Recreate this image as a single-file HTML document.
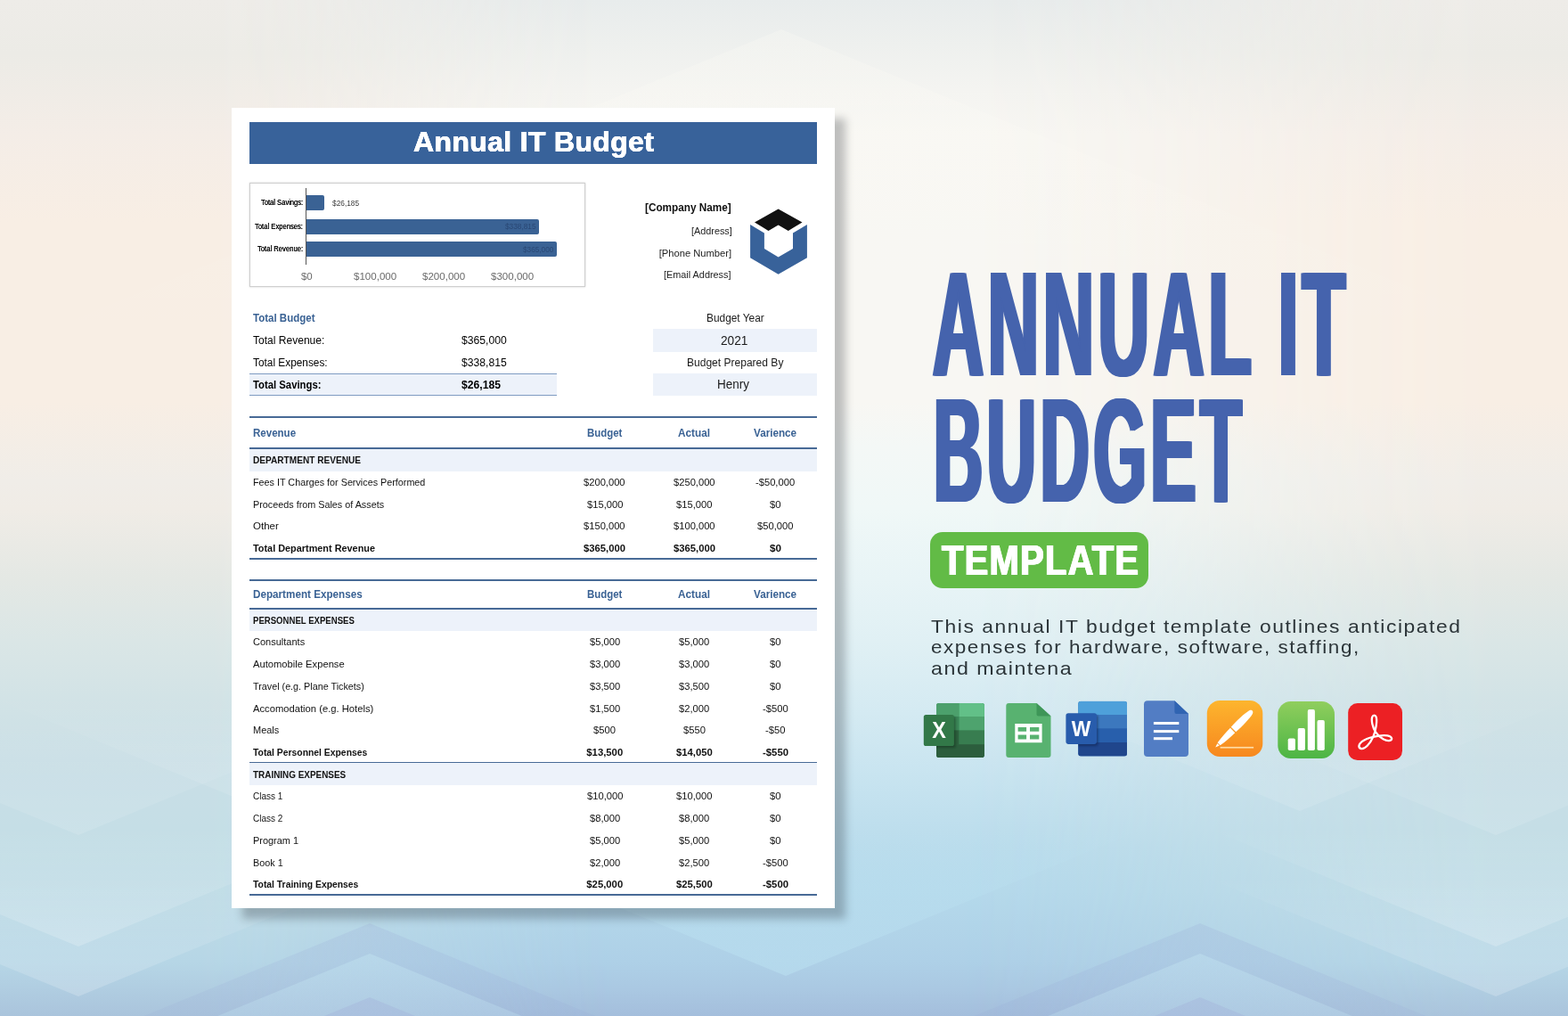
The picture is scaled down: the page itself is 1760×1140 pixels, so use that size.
<!DOCTYPE html>
<html lang="en">
<head>
<meta charset="utf-8">
<title>Annual IT Budget Template</title>
<style>
html,body{margin:0;padding:0}
body{width:1760px;height:1140px;overflow:hidden;font-family:"Liberation Sans",sans-serif;background:#eef0ee}
#stage{position:relative;width:1760px;height:1140px;overflow:hidden}
#bg{position:absolute;left:0;top:0;width:1760px;height:1140px}
#paper{position:absolute;left:260px;top:121px;width:677.3px;height:898.3px;background:#fff;box-shadow:12px 12px 9px rgba(20,25,30,.25)}
#promo{position:absolute;left:0;top:0;width:1760px;height:1140px}
.b{position:absolute}
.t{position:absolute;white-space:pre;line-height:1;transform-origin:0 50%}
h1,h2,p,strong{margin:0;padding:0;font-weight:400;display:block}

</style>
</head>
<body>
<div id="stage">
<div id="bg">
<svg width="1760" height="1140" viewBox="0 0 1760 1140">
<defs>
<linearGradient id="gc" x1="0" y1="0" x2="0" y2="1"><stop offset="0.000" stop-color="rgb(232,236,236)"/><stop offset="0.044" stop-color="rgb(238,240,238)"/><stop offset="0.088" stop-color="rgb(244,244,241)"/><stop offset="0.132" stop-color="rgb(248,247,243)"/><stop offset="0.395" stop-color="rgb(248,247,243)"/><stop offset="0.439" stop-color="rgb(244,248,246)"/><stop offset="0.500" stop-color="rgb(240,248,247)"/><stop offset="0.570" stop-color="rgb(232,244,246)"/><stop offset="0.632" stop-color="rgb(224,240,244)"/><stop offset="0.702" stop-color="rgb(212,234,242)"/><stop offset="0.763" stop-color="rgb(200,228,240)"/><stop offset="0.833" stop-color="rgb(186,220,236)"/><stop offset="0.877" stop-color="rgb(181,217,235)"/><stop offset="0.947" stop-color="rgb(174,208,231)"/><stop offset="0.974" stop-color="rgb(170,200,226)"/><stop offset="1.000" stop-color="rgb(164,190,220)"/></linearGradient>
<linearGradient id="gs" x1="0" y1="0" x2="0" y2="1"><stop offset="0.000" stop-color="rgb(238,236,232)"/><stop offset="0.053" stop-color="rgb(236,235,230)"/><stop offset="0.132" stop-color="rgb(244,237,231)"/><stop offset="0.219" stop-color="rgb(248,238,228)"/><stop offset="0.395" stop-color="rgb(248,238,228)"/><stop offset="0.474" stop-color="rgb(240,237,232)"/><stop offset="0.500" stop-color="rgb(240,236,230)"/><stop offset="0.570" stop-color="rgb(228,232,228)"/><stop offset="0.632" stop-color="rgb(218,230,230)"/><stop offset="0.702" stop-color="rgb(208,226,230)"/><stop offset="0.763" stop-color="rgb(200,222,230)"/><stop offset="0.833" stop-color="rgb(196,222,230)"/><stop offset="0.877" stop-color="rgb(192,220,230)"/><stop offset="0.947" stop-color="rgb(182,214,230)"/><stop offset="1.000" stop-color="rgb(170,196,220)"/></linearGradient>
<linearGradient id="gm" x1="0" y1="0" x2="1" y2="0"><stop offset="0.0000" stop-color="rgb(255,255,255)"/><stop offset="0.0156" stop-color="rgb(255,255,255)"/><stop offset="0.0312" stop-color="rgb(255,255,255)"/><stop offset="0.0469" stop-color="rgb(255,255,255)"/><stop offset="0.0625" stop-color="rgb(255,255,255)"/><stop offset="0.0781" stop-color="rgb(255,255,255)"/><stop offset="0.0938" stop-color="rgb(255,255,255)"/><stop offset="0.1094" stop-color="rgb(255,255,255)"/><stop offset="0.1250" stop-color="rgb(255,255,255)"/><stop offset="0.1406" stop-color="rgb(251,251,251)"/><stop offset="0.1562" stop-color="rgb(243,243,243)"/><stop offset="0.1719" stop-color="rgb(232,232,232)"/><stop offset="0.1875" stop-color="rgb(218,218,218)"/><stop offset="0.2031" stop-color="rgb(201,201,201)"/><stop offset="0.2188" stop-color="rgb(182,182,182)"/><stop offset="0.2344" stop-color="rgb(162,162,162)"/><stop offset="0.2500" stop-color="rgb(141,141,141)"/><stop offset="0.2656" stop-color="rgb(120,120,120)"/><stop offset="0.2812" stop-color="rgb(99,99,99)"/><stop offset="0.2969" stop-color="rgb(78,78,78)"/><stop offset="0.3125" stop-color="rgb(59,59,59)"/><stop offset="0.3281" stop-color="rgb(42,42,42)"/><stop offset="0.3438" stop-color="rgb(27,27,27)"/><stop offset="0.3594" stop-color="rgb(15,15,15)"/><stop offset="0.3750" stop-color="rgb(6,6,6)"/><stop offset="0.3906" stop-color="rgb(1,1,1)"/><stop offset="0.4062" stop-color="rgb(0,0,0)"/><stop offset="0.4219" stop-color="rgb(0,0,0)"/><stop offset="0.4375" stop-color="rgb(0,0,0)"/><stop offset="0.4531" stop-color="rgb(0,0,0)"/><stop offset="0.4688" stop-color="rgb(0,0,0)"/><stop offset="0.4844" stop-color="rgb(0,0,0)"/><stop offset="0.5000" stop-color="rgb(0,0,0)"/><stop offset="0.5156" stop-color="rgb(0,0,0)"/><stop offset="0.5312" stop-color="rgb(0,0,0)"/><stop offset="0.5469" stop-color="rgb(0,0,0)"/><stop offset="0.5625" stop-color="rgb(0,0,0)"/><stop offset="0.5781" stop-color="rgb(0,0,0)"/><stop offset="0.5938" stop-color="rgb(0,0,0)"/><stop offset="0.6094" stop-color="rgb(0,0,0)"/><stop offset="0.6250" stop-color="rgb(3,3,3)"/><stop offset="0.6406" stop-color="rgb(9,9,9)"/><stop offset="0.6562" stop-color="rgb(16,16,16)"/><stop offset="0.6719" stop-color="rgb(25,25,25)"/><stop offset="0.6875" stop-color="rgb(36,36,36)"/><stop offset="0.7031" stop-color="rgb(48,48,48)"/><stop offset="0.7188" stop-color="rgb(62,62,62)"/><stop offset="0.7344" stop-color="rgb(76,76,76)"/><stop offset="0.7500" stop-color="rgb(92,92,92)"/><stop offset="0.7656" stop-color="rgb(108,108,108)"/><stop offset="0.7812" stop-color="rgb(124,124,124)"/><stop offset="0.7969" stop-color="rgb(140,140,140)"/><stop offset="0.8125" stop-color="rgb(156,156,156)"/><stop offset="0.8281" stop-color="rgb(171,171,171)"/><stop offset="0.8438" stop-color="rgb(186,186,186)"/><stop offset="0.8594" stop-color="rgb(200,200,200)"/><stop offset="0.8750" stop-color="rgb(213,213,213)"/><stop offset="0.8906" stop-color="rgb(225,225,225)"/><stop offset="0.9062" stop-color="rgb(235,235,235)"/><stop offset="0.9219" stop-color="rgb(243,243,243)"/><stop offset="0.9375" stop-color="rgb(249,249,249)"/><stop offset="0.9531" stop-color="rgb(253,253,253)"/><stop offset="0.9688" stop-color="rgb(255,255,255)"/><stop offset="0.9844" stop-color="rgb(255,255,255)"/><stop offset="1.0000" stop-color="rgb(255,255,255)"/></linearGradient>
<mask id="mk" maskUnits="userSpaceOnUse" x="0" y="0" width="1760" height="1140"><rect width="1760" height="1140" fill="url(#gm)"/></mask>
<linearGradient id="fu" x1="0" y1="0" x2="0" y2="1"><stop offset="0" stop-color="#fff" stop-opacity="0"/><stop offset="1" stop-color="#fff" stop-opacity=".2"/></linearGradient>
<linearGradient id="fu2" x1="0" y1="0" x2="0" y2="1"><stop offset="0" stop-color="#fff" stop-opacity="0"/><stop offset="1" stop-color="#fff" stop-opacity=".12"/></linearGradient>
<linearGradient id="fd" x1="0" y1="0" x2="0" y2="1"><stop offset="0" stop-color="#c4e6f2" stop-opacity=".42"/><stop offset="1" stop-color="#c4e6f2" stop-opacity=".1"/></linearGradient>
<linearGradient id="fp" x1="0" y1="0" x2="0" y2="1"><stop offset="0" stop-color="#9ea8d6" stop-opacity=".3"/><stop offset="1" stop-color="#9ea8d6" stop-opacity=".1"/></linearGradient>
<linearGradient id="fq" x1="0" y1="0" x2="0" y2="1"><stop offset="0" stop-color="#8f9bd0" stop-opacity=".17"/><stop offset=".5" stop-color="#8f9bd0" stop-opacity=".12"/><stop offset="1" stop-color="#8f9bd0" stop-opacity="0"/></linearGradient>
<linearGradient id="fv" x1="0" y1="0" x2="0" y2="1"><stop offset="0" stop-color="#bfe6f4" stop-opacity="0"/><stop offset="1" stop-color="#bfe6f4" stop-opacity=".45"/></linearGradient>
<linearGradient id="ft" x1="0" y1="0" x2="0" y2="1"><stop offset="0" stop-color="#fffdf6" stop-opacity=".24"/><stop offset=".5" stop-color="#fffdf6" stop-opacity=".08"/><stop offset="1" stop-color="#fffdf6" stop-opacity="0"/></linearGradient>
</defs>
<rect width="1760" height="1140" fill="url(#gc)"/>
<rect width="1760" height="1140" fill="url(#gs)" mask="url(#mk)"/>
<polygon points="415,1036 835,1208.2 -5,1208.2" fill="url(#fq)"/>
<polygon points="415,1070 835,1242.2 -5,1242.2" fill="url(#fd)"/>
<polygon points="415,1119 715,1242.0 115,1242.0" fill="url(#fp)"/>
<polygon points="1347,1036 1767,1208.2 927,1208.2" fill="url(#fq)"/>
<polygon points="1347,1070 1767,1242.2 927,1242.2" fill="url(#fd)"/>
<polygon points="1347,1119 1647,1242.0 1047,1242.0" fill="url(#fp)"/>
<polygon points="88,1118 418,982.7 -242,982.7" fill="url(#fu)"/>
<polygon points="88,1062 418,926.7 -242,926.7" fill="url(#fu)"/>
<polygon points="88,937 418,801.7 -242,801.7" fill="url(#fu2)"/>
<polygon points="1679,1118 2009,982.7 1349,982.7" fill="url(#fu)"/>
<polygon points="1679,1062 2009,926.7 1349,926.7" fill="url(#fu)"/>
<polygon points="1679,937 2009,801.7 1349,801.7" fill="url(#fu2)"/>
<polygon points="882,1095 1302,922.8 462,922.8" fill="url(#fv)"/>
<polygon points="1459,910 1789,774.7 1129,774.7" fill="url(#fu2)"/>
<polygon points="301,910 631,774.7 -29,774.7" fill="url(#fu2)"/>
<polygon points="877,33 1777,402.0 -23,402.0" fill="url(#ft)"/>
</svg>
</div>

<section id="paper">
<div class="b" style="left:19.60px;top:15.60px;width:637.60px;height:47.60px;background:#38629a;"></div>
<div class="b" style="left:20.30px;top:83.80px;width:376.60px;height:117.00px;background:#fff;border:1px solid #cfcfcf;box-sizing:border-box;box-shadow:0 0 2px rgba(0,0,0,.18)"></div>
<div class="b" style="left:83.20px;top:90.00px;width:1.00px;height:85.60px;background:#555;"></div>
<div class="b" style="left:84.00px;top:98.00px;width:20.00px;height:17.00px;background:#3a6294;border-radius:0 2px 2px 0"></div>
<div class="b" style="left:84.00px;top:124.90px;width:260.90px;height:16.90px;background:#3a6294;border-radius:0 2px 2px 0"></div>
<div class="b" style="left:84.00px;top:150.40px;width:280.90px;height:17.00px;background:#3a6294;border-radius:0 2px 2px 0"></div>
<svg class="b" style="left:580px;top:111px" width="68" height="78" viewBox="840 232 68 78">
<polygon fill="#111" points="873.6,234.4 900.5,249.4 884.8,258.9 873.6,252.5 862.5,258.9 847,249.4"/>
<polygon fill="#38629a" points="842.1,252.1 857.9,261.4 857.9,279.1 873.6,288.6 890,279.1 890,261.4 905.9,252.1 905.9,289.3 873.6,307.7 842.1,289.3"/>
</svg>
<div class="b" style="left:19.60px;top:298.20px;width:345.70px;height:24.60px;background:#edf2fa;border-top:1px solid #7f9cc2;border-bottom:1px solid #7f9cc2;box-sizing:border-box"></div>
<div class="b" style="left:473.00px;top:248.20px;width:184.20px;height:25.60px;background:#edf2fa;"></div>
<div class="b" style="left:473.00px;top:297.50px;width:184.20px;height:25.80px;background:#edf2fa;"></div>
<div class="b" style="left:19.60px;top:346.05px;width:637.60px;height:1.90px;background:#486a96;"></div>
<div class="b" style="left:19.60px;top:381.25px;width:637.60px;height:1.90px;background:#486a96;"></div>
<div class="b" style="left:19.60px;top:383.00px;width:637.60px;height:24.70px;background:#edf2fa;"></div>
<div class="b" style="left:19.60px;top:504.75px;width:637.60px;height:1.90px;background:#486a96;"></div>
<div class="b" style="left:19.60px;top:529.35px;width:637.60px;height:1.90px;background:#486a96;"></div>
<div class="b" style="left:19.60px;top:561.05px;width:637.60px;height:1.90px;background:#486a96;"></div>
<div class="b" style="left:19.60px;top:562.80px;width:637.60px;height:24.60px;background:#edf2fa;"></div>
<div class="b" style="left:19.60px;top:733.55px;width:637.60px;height:1.90px;background:#486a96;"></div>
<div class="b" style="left:19.60px;top:735.30px;width:637.60px;height:24.60px;background:#edf2fa;"></div>
<div class="b" style="left:19.60px;top:881.75px;width:637.60px;height:1.90px;background:#486a96;"></div>
<h2 class="t" style="left:204.35px;top:22.55px;font-size:31.6px;font-weight:700;color:#fff;letter-spacing:0.296px;transform:scaleX(1.0146);text-shadow:0.34px 0 0 #fff,-0.34px 0 0 #fff,0.17px 0 0 #fff,-0.17px 0 0 #fff">Annual IT Budget</h2>
<div class="t" style="left:32.60px;top:101.85px;font-size:8.8px;transform:scaleX(0.8615);text-shadow:0 0 .4px #000">Total Savings:</div>
<div class="t" style="left:25.80px;top:128.85px;font-size:8.8px;transform:scaleX(0.8693);text-shadow:0 0 .4px #000">Total Expenses:</div>
<div class="t" style="left:28.70px;top:153.85px;font-size:8.8px;transform:scaleX(0.8706);text-shadow:0 0 .4px #000">Total Revenue:</div>
<div class="t" style="left:112.70px;top:103.02px;font-size:8.6px;color:#3c3c3c;transform:scaleX(0.9685)">$26,185</div>
<div class="t" style="left:306.60px;top:129.02px;font-size:8.6px;color:#2a4875;transform:scaleX(0.9649)">$338,815</div>
<div class="t" style="left:326.80px;top:155.02px;font-size:8.6px;color:#2a4875;transform:scaleX(0.9566)">$365,000</div>
<div class="t" style="left:77.85px;top:183.48px;font-size:11.6px;color:#6a6a6a;transform:scaleX(0.9881)">$0</div>
<div class="t" style="left:136.85px;top:183.48px;font-size:11.6px;color:#6a6a6a;transform:scaleX(0.9956)">$100,000</div>
<div class="t" style="left:213.85px;top:183.48px;font-size:11.6px;color:#6a6a6a;transform:scaleX(0.9956)">$200,000</div>
<div class="t" style="left:290.65px;top:183.48px;font-size:11.6px;color:#6a6a6a;transform:scaleX(0.9956)">$300,000</div>
<div class="t" style="left:464.40px;top:107.23px;font-size:11.9px;font-weight:700;color:#111;transform:scaleX(0.9895)">[Company Name]</div>
<div class="t" style="left:515.50px;top:132.82px;font-size:11.2px;color:#222;transform:scaleX(0.9693)">[Address]</div>
<div class="t" style="left:479.70px;top:157.82px;font-size:11.2px;color:#222">[Phone Number]</div>
<div class="t" style="left:485.20px;top:181.82px;font-size:11.2px;color:#222;transform:scaleX(0.9715)">[Email Address]</div>
<div class="t" style="left:23.60px;top:230.14px;font-size:12.0px;font-weight:700;color:#3a6294;transform:scaleX(0.9594)">Total Budget</div>
<div class="t" style="left:23.60px;top:255.14px;font-size:12.0px;transform:scaleX(1.0036)">Total Revenue:</div>
<div class="t" style="left:258.30px;top:255.14px;font-size:12.0px;transform:scaleX(1.0124)">$365,000</div>
<div class="t" style="left:23.60px;top:280.14px;font-size:12.0px;transform:scaleX(0.9872)">Total Expenses:</div>
<div class="t" style="left:258.30px;top:280.14px;font-size:12.0px;transform:scaleX(1.0124)">$338,815</div>
<div class="t" style="left:23.60px;top:305.14px;font-size:12.0px;font-weight:700;transform:scaleX(0.9423)">Total Savings:</div>
<div class="t" style="left:258.30px;top:305.14px;font-size:12.0px;font-weight:700;transform:scaleX(1.0137)">$26,185</div>
<div class="t" style="left:532.50px;top:230.14px;font-size:12.0px;color:#1a1a1a;transform:scaleX(0.9906)">Budget Year</div>
<div class="t" style="left:548.90px;top:254.28px;font-size:14.2px;color:#1a1a1a;transform:scaleX(0.9662)">2021</div>
<div class="t" style="left:510.50px;top:280.14px;font-size:12.0px;color:#1a1a1a;transform:scaleX(1.0031)">Budget Prepared By</div>
<div class="t" style="left:545.45px;top:303.28px;font-size:14.2px;color:#1a1a1a;transform:scaleX(0.9483)">Henry</div>
<div class="t" style="left:23.60px;top:359.14px;font-size:12.0px;font-weight:700;color:#3a6294;transform:scaleX(0.9613)">Revenue</div>
<div class="t" style="left:398.95px;top:359.14px;font-size:12.0px;font-weight:700;color:#3a6294;transform:scaleX(0.9509)">Budget</div>
<div class="t" style="left:501.35px;top:359.14px;font-size:12.0px;font-weight:700;color:#3a6294;transform:scaleX(0.9824)">Actual</div>
<div class="t" style="left:586.10px;top:359.14px;font-size:12.0px;font-weight:700;color:#3a6294;transform:scaleX(0.9739)">Varience</div>
<div class="t" style="left:23.60px;top:389.73px;font-size:11.3px;font-weight:700;color:#111;transform:scaleX(0.8945)">DEPARTMENT REVENUE</div>
<div class="t" style="left:23.60px;top:414.73px;font-size:11.3px;color:#111;transform:scaleX(0.9545)">Fees IT Charges for Services Performed</div>
<div class="t" style="left:395.46px;top:414.73px;font-size:11.3px;color:#111;transform:scaleX(0.9884)">$200,000</div>
<div class="t" style="left:496.06px;top:414.73px;font-size:11.3px;color:#111;transform:scaleX(0.9884)">$250,000</div>
<div class="t" style="left:588.39px;top:414.73px;font-size:11.3px;color:#111;transform:scaleX(0.9888)">-$50,000</div>
<div class="t" style="left:23.60px;top:439.73px;font-size:11.3px;color:#111;transform:scaleX(0.9560)">Proceeds from Sales of Assets</div>
<div class="t" style="left:398.54px;top:439.73px;font-size:11.3px;color:#111;transform:scaleX(0.9893)">$15,000</div>
<div class="t" style="left:499.14px;top:439.73px;font-size:11.3px;color:#111;transform:scaleX(0.9893)">$15,000</div>
<div class="t" style="left:604.13px;top:439.73px;font-size:11.3px;color:#111;transform:scaleX(1.0047)">$0</div>
<div class="t" style="left:23.60px;top:463.73px;font-size:11.3px;color:#111;transform:scaleX(1.0179)">Other</div>
<div class="t" style="left:395.46px;top:463.73px;font-size:11.3px;color:#111;transform:scaleX(0.9884)">$150,000</div>
<div class="t" style="left:496.06px;top:463.73px;font-size:11.3px;color:#111;transform:scaleX(0.9884)">$100,000</div>
<div class="t" style="left:590.24px;top:463.73px;font-size:11.3px;color:#111;transform:scaleX(0.9893)">$50,000</div>
<div class="t" style="left:23.60px;top:488.73px;font-size:11.3px;font-weight:700;color:#111;transform:scaleX(0.9627)">Total Department Revenue</div>
<div class="t" style="left:395.25px;top:488.73px;font-size:11.3px;font-weight:700;color:#111;transform:scaleX(0.9969)">$365,000</div>
<div class="t" style="left:495.86px;top:488.73px;font-size:11.3px;font-weight:700;color:#111;transform:scaleX(0.9969)">$365,000</div>
<div class="t" style="left:603.93px;top:488.73px;font-size:11.3px;font-weight:700;color:#111;transform:scaleX(1.0372)">$0</div>
<div class="t" style="left:23.60px;top:540.14px;font-size:12.0px;font-weight:700;color:#3a6294;transform:scaleX(0.9733)">Department Expenses</div>
<div class="t" style="left:398.95px;top:540.14px;font-size:12.0px;font-weight:700;color:#3a6294;transform:scaleX(0.9509)">Budget</div>
<div class="t" style="left:501.35px;top:540.14px;font-size:12.0px;font-weight:700;color:#3a6294;transform:scaleX(0.9824)">Actual</div>
<div class="t" style="left:586.10px;top:540.14px;font-size:12.0px;font-weight:700;color:#3a6294;transform:scaleX(0.9739)">Varience</div>
<div class="t" style="left:23.60px;top:569.73px;font-size:11.3px;font-weight:700;color:#111;transform:scaleX(0.8486)">PERSONNEL EXPENSES</div>
<div class="t" style="left:23.60px;top:593.73px;font-size:11.3px;color:#111;transform:scaleX(0.9749)">Consultants</div>
<div class="t" style="left:401.62px;top:593.73px;font-size:11.3px;color:#111;transform:scaleX(0.9907)">$5,000</div>
<div class="t" style="left:502.23px;top:593.73px;font-size:11.3px;color:#111;transform:scaleX(0.9907)">$5,000</div>
<div class="t" style="left:604.13px;top:593.73px;font-size:11.3px;color:#111;transform:scaleX(1.0047)">$0</div>
<div class="t" style="left:23.60px;top:618.73px;font-size:11.3px;color:#111;transform:scaleX(0.9909)">Automobile Expense</div>
<div class="t" style="left:401.62px;top:618.73px;font-size:11.3px;color:#111;transform:scaleX(0.9907)">$3,000</div>
<div class="t" style="left:502.23px;top:618.73px;font-size:11.3px;color:#111;transform:scaleX(0.9907)">$3,000</div>
<div class="t" style="left:604.13px;top:618.73px;font-size:11.3px;color:#111;transform:scaleX(1.0047)">$0</div>
<div class="t" style="left:23.60px;top:643.73px;font-size:11.3px;color:#111;transform:scaleX(0.9540)">Travel (e.g. Plane Tickets)</div>
<div class="t" style="left:401.62px;top:643.73px;font-size:11.3px;color:#111;transform:scaleX(0.9907)">$3,500</div>
<div class="t" style="left:502.23px;top:643.73px;font-size:11.3px;color:#111;transform:scaleX(0.9907)">$3,500</div>
<div class="t" style="left:604.13px;top:643.73px;font-size:11.3px;color:#111;transform:scaleX(1.0047)">$0</div>
<div class="t" style="left:23.60px;top:668.73px;font-size:11.3px;color:#111;transform:scaleX(0.9927)">Accomodation (e.g. Hotels)</div>
<div class="t" style="left:401.62px;top:668.73px;font-size:11.3px;color:#111;transform:scaleX(0.9907)">$1,500</div>
<div class="t" style="left:502.23px;top:668.73px;font-size:11.3px;color:#111;transform:scaleX(0.9907)">$2,000</div>
<div class="t" style="left:596.11px;top:668.73px;font-size:11.3px;color:#111;transform:scaleX(0.9919)">-$500</div>
<div class="t" style="left:23.60px;top:692.73px;font-size:11.3px;color:#111;transform:scaleX(0.9709)">Meals</div>
<div class="t" style="left:406.26px;top:692.73px;font-size:11.3px;color:#111;transform:scaleX(0.9932)">$500</div>
<div class="t" style="left:506.86px;top:692.73px;font-size:11.3px;color:#111;transform:scaleX(0.9932)">$550</div>
<div class="t" style="left:599.19px;top:692.73px;font-size:11.3px;color:#111;transform:scaleX(0.9947)">-$50</div>
<div class="t" style="left:23.60px;top:717.73px;font-size:11.3px;font-weight:700;color:#111;transform:scaleX(0.9175)">Total Personnel Expenses</div>
<div class="t" style="left:398.34px;top:717.73px;font-size:11.3px;font-weight:700;color:#111">$13,500</div>
<div class="t" style="left:498.94px;top:717.73px;font-size:11.3px;font-weight:700;color:#111">$14,050</div>
<div class="t" style="left:595.91px;top:717.73px;font-size:11.3px;font-weight:700;color:#111;transform:scaleX(1.0059)">-$550</div>
<div class="t" style="left:23.60px;top:742.73px;font-size:11.3px;font-weight:700;color:#111;transform:scaleX(0.8782)">TRAINING EXPENSES</div>
<div class="t" style="left:23.60px;top:766.73px;font-size:11.3px;color:#111;transform:scaleX(0.8827)">Class 1</div>
<div class="t" style="left:398.54px;top:766.73px;font-size:11.3px;color:#111;transform:scaleX(0.9893)">$10,000</div>
<div class="t" style="left:499.14px;top:766.73px;font-size:11.3px;color:#111;transform:scaleX(0.9893)">$10,000</div>
<div class="t" style="left:604.13px;top:766.73px;font-size:11.3px;color:#111;transform:scaleX(1.0047)">$0</div>
<div class="t" style="left:23.60px;top:791.73px;font-size:11.3px;color:#111;transform:scaleX(0.8827)">Class 2</div>
<div class="t" style="left:401.62px;top:791.73px;font-size:11.3px;color:#111;transform:scaleX(0.9907)">$8,000</div>
<div class="t" style="left:502.23px;top:791.73px;font-size:11.3px;color:#111;transform:scaleX(0.9907)">$8,000</div>
<div class="t" style="left:604.13px;top:791.73px;font-size:11.3px;color:#111;transform:scaleX(1.0047)">$0</div>
<div class="t" style="left:23.60px;top:816.73px;font-size:11.3px;color:#111;transform:scaleX(0.9684)">Program 1</div>
<div class="t" style="left:401.62px;top:816.73px;font-size:11.3px;color:#111;transform:scaleX(0.9907)">$5,000</div>
<div class="t" style="left:502.23px;top:816.73px;font-size:11.3px;color:#111;transform:scaleX(0.9907)">$5,000</div>
<div class="t" style="left:604.13px;top:816.73px;font-size:11.3px;color:#111;transform:scaleX(1.0047)">$0</div>
<div class="t" style="left:23.60px;top:841.73px;font-size:11.3px;color:#111;transform:scaleX(0.9574)">Book 1</div>
<div class="t" style="left:401.62px;top:841.73px;font-size:11.3px;color:#111;transform:scaleX(0.9907)">$2,000</div>
<div class="t" style="left:502.23px;top:841.73px;font-size:11.3px;color:#111;transform:scaleX(0.9907)">$2,500</div>
<div class="t" style="left:596.11px;top:841.73px;font-size:11.3px;color:#111;transform:scaleX(0.9919)">-$500</div>
<div class="t" style="left:23.60px;top:865.73px;font-size:11.3px;font-weight:700;color:#111;transform:scaleX(0.9167)">Total Training Expenses</div>
<div class="t" style="left:398.34px;top:865.73px;font-size:11.3px;font-weight:700;color:#111">$25,000</div>
<div class="t" style="left:498.94px;top:865.73px;font-size:11.3px;font-weight:700;color:#111">$25,500</div>
<div class="t" style="left:595.91px;top:865.73px;font-size:11.3px;font-weight:700;color:#111;transform:scaleX(1.0059)">-$500</div>
</section>
<section id="promo">
<div class="b" style="left:1044.10px;top:597.10px;width:245.00px;height:62.60px;background:#62bb46;border-radius:14px"></div>
<h1 class="t ttl" style="left:1046.50px;top:280.06px;font-size:166.5px;font-weight:700;color:#4563ad;letter-spacing:10.106px;transform:scaleX(0.4750);text-shadow:4.63px 0 0 #4563ad,-4.63px 0 0 #4563ad,2.32px 0 0 #4563ad,-2.32px 0 0 #4563ad">ANNUAL IT</h1>
<h1 class="t ttl" style="left:1047.87px;top:422.06px;font-size:166.5px;font-weight:700;color:#4563ad;letter-spacing:10.489px;transform:scaleX(0.4576);text-shadow:4.81px 0 0 #4563ad,-4.81px 0 0 #4563ad,2.40px 0 0 #4563ad,-2.40px 0 0 #4563ad">BUDGET</h1>
<strong class="t" style="left:1057.10px;top:604.22px;font-size:49.0px;font-weight:700;color:#fff;letter-spacing:1.469px;transform:scaleX(0.8167);text-shadow:0.86px 0 0 #fff,-0.86px 0 0 #fff,0.43px 0 0 #fff,-0.43px 0 0 #fff">TEMPLATE</strong>
<p class="t" style="left:1045.30px;top:692.86px;font-size:20.6px;color:#2b3438;letter-spacing:1.397px;transform:scaleX(1.1092)">This annual IT budget template outlines anticipated</p>
<p class="t" style="left:1045.30px;top:715.86px;font-size:20.6px;color:#2b3438;letter-spacing:1.421px;transform:scaleX(1.0908)">expenses for hardware, software, staffing,</p>
<p class="t" style="left:1045.30px;top:739.86px;font-size:20.6px;color:#2b3438;letter-spacing:1.375px;transform:scaleX(1.1269)">and maintena</p>
<svg class="b" id="icons" style="left:1030px;top:775px" width="560" height="90" viewBox="1030 775 560 90" font-family="Liberation Sans, sans-serif" font-weight="700">
<defs>
<clipPath id="cx"><rect x="1051" y="789" width="53.9" height="61" rx="2.8"/></clipPath>
<clipPath id="cw"><rect x="1210.3" y="786.7" width="54.7" height="61.8" rx="3"/></clipPath>
<linearGradient id="gp" x1="0" y1="0" x2="0" y2="1"><stop offset="0" stop-color="#fdb52e"/><stop offset="1" stop-color="#f7881f"/></linearGradient>
<linearGradient id="gn" x1="0" y1="0" x2="0" y2="1"><stop offset="0" stop-color="#90ce5d"/><stop offset="1" stop-color="#4cb545"/></linearGradient>
<filter id="sh" x="-30%" y="-30%" width="170%" height="170%"><feGaussianBlur stdDeviation="1.3"/></filter>
</defs>
<!-- Excel -->
<g clip-path="url(#cx)">
<rect x="1051" y="789" width="54" height="61" fill="#3b8658"/>
<rect x="1076.2" y="789" width="29" height="47" fill="#4ea36e"/>
<rect x="1051" y="789" width="25.7" height="15.1" fill="#4ca06c"/><rect x="1076.7" y="789" width="28.3" height="15.1" fill="#62c088"/>
<rect x="1051" y="804.1" width="25.7" height="15.3" fill="#3b8658"/><rect x="1076.7" y="804.1" width="28.3" height="15.3" fill="#4ea36e"/>
<rect x="1051" y="819.4" width="25.7" height="15.7" fill="#2c603e"/><rect x="1076.7" y="819.4" width="28.3" height="15.7" fill="#387d50"/>
<rect x="1051" y="835.1" width="54" height="15" fill="#2c5e3d"/>
<rect x="1038.5" y="804" width="34.1" height="35" rx="2.6" fill="#0d2a18" opacity=".45" filter="url(#sh)"/>
</g>
<rect x="1036.8" y="802" width="34.1" height="35" rx="2.6" fill="#327848"/>
<text x="1054.1" y="828.3" font-size="25.2" fill="#fff" text-anchor="middle" textLength="15.6" lengthAdjust="spacingAndGlyphs">X</text>
<!-- Google Sheets -->
<path d="M1132.3,789 H1163.5 L1179.5,803.5 V847 a3,3 0 0 1 -3,3 H1132.3 a3,3 0 0 1 -3,-3 V792 a3,3 0 0 1 3,-3 Z" fill="#58b270"/>
<path d="M1163.5,789 L1179.5,803.5 H1165.5 a2,2 0 0 1 -2,-2 Z" fill="#3e9658"/>
<path fill="#fff" fill-rule="evenodd" d="M1139.3,811.9 H1169.6 V833.3 H1139.3 Z M1142.6,815.9 V820.8 H1152.1 V815.9 Z M1156,815.9 V820.8 H1166.3 V815.9 Z M1142.6,824.4 V829.6 H1152.1 V824.4 Z M1156,824.4 V829.6 H1166.3 V824.4 Z"/>
<!-- Word -->
<g clip-path="url(#cw)">
<rect x="1210" y="786.7" width="55.2" height="62" fill="#2e68b4"/>
<rect x="1210" y="786.7" width="55.2" height="15.3" fill="#4ea0da"/>
<rect x="1210" y="802" width="55.2" height="15.5" fill="#3c78be"/>
<rect x="1210" y="817.5" width="55.2" height="15.5" fill="#285fac"/>
<rect x="1210" y="833" width="55.2" height="15.6" fill="#20468c"/>
<rect x="1198" y="802.2" width="34.6" height="34.7" rx="2.8" fill="#0a1c45" opacity=".45" filter="url(#sh)"/>
</g>
<rect x="1196.4" y="800.2" width="34.6" height="34.7" rx="2.8" fill="#285cac"/>
<text x="1213.5" y="826.3" font-size="24.8" fill="#fff" text-anchor="middle" textLength="21.6" lengthAdjust="spacingAndGlyphs">W</text>
<!-- Google Docs -->
<path d="M1288,786.2 H1318.4 L1334,800.9 V845 a4,4 0 0 1 -4,4 H1288 a4,4 0 0 1 -4,-4 V790.2 a4,4 0 0 1 4,-4 Z" fill="#527dc4"/>
<path d="M1318.4,786.2 L1334,800.9 H1320.4 a2,2 0 0 1 -2,-2 Z" fill="#3064b2"/>
<rect x="1294.9" y="810" width="28.4" height="3" fill="#fff"/><rect x="1294.9" y="819.1" width="28.4" height="3" fill="#fff"/><rect x="1294.9" y="827.2" width="21.1" height="3" fill="#fff"/>
<!-- Pages -->
<rect x="1354.8" y="786" width="62.5" height="63.1" rx="14.5" fill="url(#gp)"/>
<g transform="translate(1364.3 838.6) rotate(-44.8)">
<path d="M0,0 L4.6,-1.7 L4.6,1.7 Z" fill="#fff"/>
<path d="M5.4,-2.1 C12,-3.3 20,-3.7 27.2,-3.8 L27.2,3.8 C20,3.7 12,3.3 5.4,2.1 Z" fill="#fff"/>
<path d="M28.5,-3.9 C38,-4.4 50,-4.2 56,-2.6 C59,-1.6 59,1.6 56,2.6 C50,4.2 38,4.4 28.5,3.9 Z" fill="#fff"/>
</g>
<rect x="1369.6" y="837.9" width="37.5" height="1.7" fill="#ffdca5"/>
<!-- Numbers -->
<rect x="1434.3" y="787" width="63.7" height="64" rx="14.5" fill="url(#gn)"/>
<rect x="1445.7" y="828.4" width="8.2" height="13.7" rx="1.8" fill="#fff"/>
<rect x="1456.7" y="817.1" width="8.2" height="25" rx="1.8" fill="#fff"/>
<rect x="1467.8" y="796.1" width="8.1" height="46" rx="1.8" fill="#fff"/>
<rect x="1478.5" y="808.1" width="8.3" height="34" rx="1.8" fill="#fff"/>
<!-- PDF -->
<rect x="1513.2" y="789.1" width="60.8" height="63.9" rx="10.5" fill="#ec2024"/>
<g fill="none" stroke="#fff" stroke-width="2.3" stroke-linejoin="round" stroke-linecap="round">
<path d="M1541.3,826.8 C1537.6,835 1532,840.6 1528,840 C1524.2,839.3 1524.6,835.4 1528.6,832.2 C1532.4,829.2 1538,827.4 1541.3,826.8 C1545.6,825.8 1552,824.6 1557.2,825.4 C1562.6,826.2 1563.6,830 1560,830.9 C1556,831.9 1549.2,828.6 1544.2,821.6 C1540.6,816.4 1539,808 1540.2,804.6 C1541.2,801.8 1543.8,801.9 1544.7,804.6 C1546,808.8 1544.4,819.6 1541.3,826.8 Z"/>
</g>
</svg>

</section>
</div>
</body>
</html>
